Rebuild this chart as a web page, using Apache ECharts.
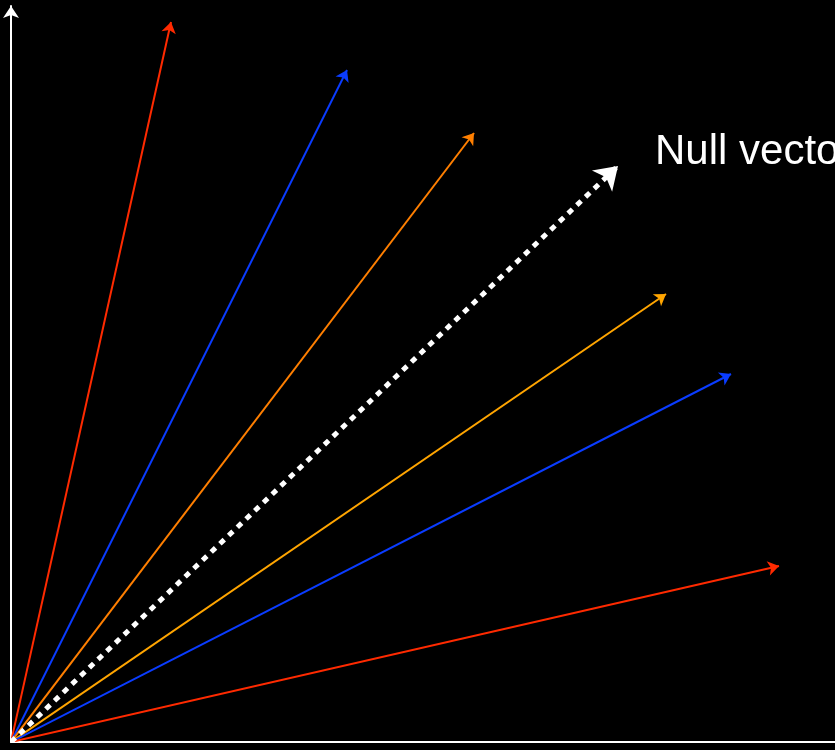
<!DOCTYPE html>
<html>
<head>
<meta charset="utf-8">
<script src="https://cdn.jsdelivr.net/npm/echarts@6/dist/echarts.min.js"></script>
<style>
  html, body { margin: 0; padding: 0; background: #000; }
  #chart { width: 835px; height: 750px; }
</style>
</head>
<body>
<div id="chart"></div>
<script>
// vector tips, measured from the origin (x right, y up)
const vecNames = ['red1', 'blue1', 'orange1', 'orange2', 'blue2', 'red2']
const vecX = [160, 336, 463, 655, 720, 768]
const vecY = [720, 672, 609, 448, 368, 176]
const vecColors = ['#ff2a00', '#0a3cff', '#ff7f00', '#ffa500', '#0a3cff', '#ff2a00']

// the dotted "null vector"
const nullTip = [607, 576]
const nullLabel = 'Null vector'
const nullLabelPos = [640, 590]

const chart = echarts.init(document.getElementById('chart'))

const axisStyle = {
  type: 'value',
  min: 0,
  splitLine: { show: false },
  axisTick: { show: false },
  axisLabel: { show: false }
}

const option = {
  backgroundColor: '#000',
  animation: false,
  grid: { left: 11, right: 0, top: 6, bottom: 8 },
  xAxis: {
    ...axisStyle,
    max: 824,
    axisLine: { show: true, lineStyle: { color: '#fff', width: 2 } }
  },
  yAxis: {
    ...axisStyle,
    max: 736,
    axisLine: {
      show: true,
      symbol: ['none', 'arrow'],
      symbolSize: [12, 12],
      lineStyle: { color: '#fff', width: 2 }
    }
  },
  series: [
    {
      type: 'lines',
      coordinateSystem: 'cartesian2d',
      symbol: ['none', 'arrow'],
      symbolSize: 11,
      data: vecNames.map((n, i) => ({
        name: n,
        coords: [[0, 0], [vecX[i], vecY[i]]],
        lineStyle: { color: vecColors[i], width: 2, opacity: 1 }
      })),
      zlevel: 1
    },
    {
      type: 'lines',
      coordinateSystem: 'cartesian2d',
      symbol: ['none', 'arrow'],
      symbolSize: 22,
      data: [{
        name: 'null',
        coords: [[0, 0], nullTip],
        lineStyle: {
          color: '#fff', width: 5, opacity: 1,
          type: [6, 6], cap: 'butt'
        }
      }],
      zlevel: 2
    },
    {
      type: 'scatter',
      symbolSize: 0,
      data: [nullLabelPos],
      itemStyle: { opacity: 1 },
      label: {
        show: true,
        position: 'right',
        distance: 4,
        formatter: nullLabel,
        color: '#ffffff',
        opacity: 1,
        textBorderWidth: 0,
        fontSize: 42,
        fontFamily: 'Liberation Sans, Arial, sans-serif'
      },
      silent: true,
      zlevel: 3
    }
  ]
}

chart.setOption(option)
</script>
</body>
</html>
